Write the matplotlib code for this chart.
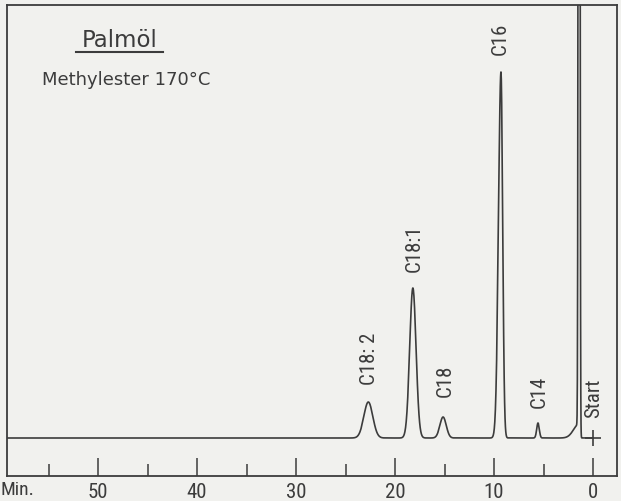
import numpy as np
import matplotlib
matplotlib.use("Agg")
import matplotlib.pyplot as plt
from matplotlib import font_manager
from matplotlib.lines import Line2D

# Peaks (time in min, height in px above baseline)
peak_names = ["C18: 2", "C18:1", "C18", "C16", "C14", None, None]
peak_times = [22.7, 18.2, 15.15, 9.3, 5.56, 1.41, 1.41]
peak_heights = [36, 150, 21, 366, 15, 3000, 14]
sigma_front = [0.45, 0.32, 0.32, 0.17, 0.13, 0.06, 0.05]   # earlier-time side
sigma_tail = [0.45, 0.32, 0.32, 0.25, 0.13, 0.06, 0.55]    # later-time side

# label positions (time, bottom of rotated text)
label_times = [22.6, 18.08, 14.95, 9.35, 5.45]
label_bottoms = [53, 166, 41, 383, 30]

major_ticks = [0, 10, 20, 30, 40, 50]
minor_ticks = [5, 15, 25, 35, 45, 55]

ink = "#3c3c3c"
paper = "#f1f1ee"

names = {f.name for f in font_manager.fontManager.ttflist}
narrow = next((n for n in ["Liberation Sans Narrow", "Roboto Condensed", "DejaVu Sans"] if n in names), "DejaVu Sans")

fig = plt.figure(figsize=(6.21, 5.01), dpi=100, facecolor=paper)
W, H = 621, 501
ax = fig.add_axes([7 / W, 25 / H, 610 / W, 471 / H], facecolor=paper)

# trace = sum of bi-gaussian peaks
t = np.linspace(0, 59.2, 8000)
y = np.zeros_like(t)
for t0, h, sf, st in zip(peak_times, peak_heights, sigma_front, sigma_tail):
    s = np.where(t > t0, st, sf)
    y += h * np.exp(-0.5 * ((t - t0) / s) ** 2)
ax.plot(t, y, color=ink, lw=1.2)

# start mark
ax.plot([0], [0], marker="+", ms=12, mew=1.2, color=ink)

ax.set_xlim(59.2, -2.42)
ax.set_ylim(-38, 433)

for name, tx, yb in zip(peak_names, label_times, label_bottoms):
    ax.text(tx, yb, name, rotation=90, ha="center", va="bottom",
            fontsize=15, family=narrow, color=ink)
ax.text(-0.05, 20, "Start", rotation=90, ha="center", va="bottom",
        fontsize=15, family=narrow, color=ink)

ax.set_xticks(major_ticks)
ax.set_xticks(minor_ticks, minor=True)
ax.set_xticklabels([str(v) for v in major_ticks], family=narrow, fontsize=15, color=ink)
ax.tick_params(axis="x", which="major", direction="in", length=13, width=1.1, color=ink, pad=5)
ax.tick_params(axis="x", which="minor", direction="in", length=8.5, width=1.1, color=ink)
ax.set_yticks([])
ax.text(58.1, -14 / 471, "Min.", transform=ax.get_xaxis_transform(), ha="center", va="center",
        family=narrow, fontsize=14, color=ink)

for sp in ax.spines.values():
    sp.set_color(ink)
    sp.set_linewidth(1.3)

# header
fig.text(120 / W, 1 - 47 / H, "Palmöl", ha="center", va="baseline", fontsize=16.5, color=ink)
fig.add_artist(Line2D([76 / W, 163 / W], [1 - 52 / H, 1 - 52 / H], color=ink, lw=1.5))
fig.text(42 / W, 1 - 85 / H, "Methylester 170°C", ha="left", va="baseline", fontsize=13, color=ink)

fig.savefig("out.png", dpi=100, facecolor=paper)
